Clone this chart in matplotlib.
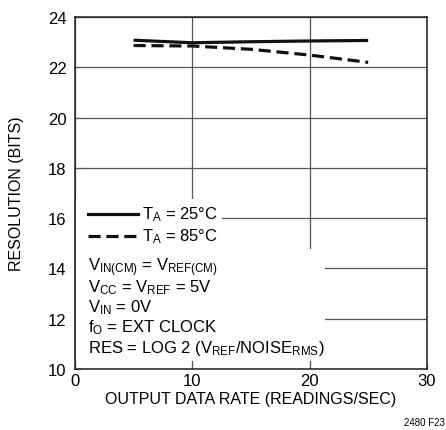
import matplotlib
matplotlib.use('Agg')
import matplotlib.pyplot as plt
from matplotlib.patches import Rectangle

plt.rcParams['font.family'] = ['Liberation Sans', 'DejaVu Sans']
plt.rcParams['mathtext.fontset'] = 'custom'
plt.rcParams['mathtext.rm'] = 'Liberation Sans'

# datos
rate = [5, 10, 15, 20, 25]
res_25 = [23.08, 22.98, 23.02, 23.05, 23.07]
res_85 = [22.87, 22.85, 22.72, 22.49, 22.20]

xticks = [0, 10, 20, 30]
yticks = [10, 12, 14, 16, 18, 20, 22, 24]

leyenda = ['T$\\mathregular{_A}$ = 25°C', 'T$\\mathregular{_A}$ = 85°C']
notas = ['V$\\mathregular{_{IN(CM)}}$ = V$\\mathregular{_{REF(CM)}}$',
         'V$\\mathregular{_{CC}}$ = V$\\mathregular{_{REF}}$ = 5V',
         'V$\\mathregular{_{IN}}$ = 0V',
         'f$\\mathregular{_{O}}$ = EXT CLOCK',
         'RES = LOG 2 (V$\\mathregular{_{REF}}$/NOISE$\\mathregular{_{RMS}}$)']

guiones = (3.8, 1.8)

fig = plt.figure(figsize=(4.46, 4.31), dpi=100)
ax = fig.add_axes([0.168, 0.1415, 0.789, 0.8165])

ax.plot(rate, res_25, color='#111111', lw=2.3, solid_capstyle='butt', zorder=4)
ax.plot(rate, res_85, color='#111111', lw=2.3, dashes=guiones, zorder=4)

ax.set_xlim(0, 30)
ax.set_ylim(10, 24)
ax.set_xticks(xticks)
ax.set_yticks(yticks)
ax.grid(True, color='#555555', lw=0.9, zorder=1)
ax.set_axisbelow(True)
ax.tick_params(direction='in', length=4, labelsize=12, color='#555555')
ax.tick_params(axis='y', pad=6)
ax.tick_params(axis='x', pad=3)
for s in ax.spines.values():
    s.set_color('#222222')
    s.set_linewidth(1.1)

ax.set_xlabel('OUTPUT DATA RATE (READINGS/SEC)', fontsize=11.5, labelpad=2)
ax.set_ylabel('RESOLUTION (BITS)', fontsize=11.5, labelpad=17)

# cajas blancas que tapan la grilla detras del texto
ax.add_patch(Rectangle((0.003, 0.341), 0.415, 0.142, transform=ax.transAxes,
                       facecolor='white', edgecolor='none', zorder=2))
ax.add_patch(Rectangle((0.003, 0.023), 0.707, 0.318, transform=ax.transAxes,
                       facecolor='white', edgecolor='none', zorder=2))

# leyenda manual
ax.plot([0.037, 0.18], [0.441, 0.441], transform=ax.transAxes, color='#111111', lw=2.3, zorder=5)
ax.plot([0.037, 0.18], [0.378, 0.378], transform=ax.transAxes, color='#111111', lw=2.3,
        dashes=guiones, zorder=5)
ax.text(0.19, 0.441, leyenda[0], transform=ax.transAxes, fontsize=12,
        va='center', zorder=5)
ax.text(0.19, 0.378, leyenda[1], transform=ax.transAxes, fontsize=12,
        va='center', zorder=5)

for i, t in enumerate(notas):
    ax.text(0.037, 0.29 - i * 0.057, t, transform=ax.transAxes, fontsize=12,
            va='center', zorder=5)

fig.text(0.998, 0.008, '2480 F23', fontsize=7, ha='right', va='bottom')

fig.savefig('out.png', dpi=100)
